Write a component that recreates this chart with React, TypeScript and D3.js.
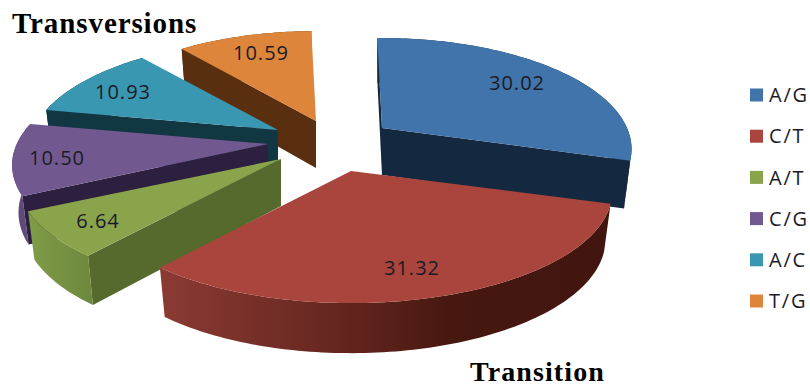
import React from "react";
import * as d3 from "d3";

// Share of each substitution type, in percent
const categories = ["A/G", "C/T", "A/T", "C/G", "A/C", "T/G"];
const shares = [30.02, 31.32, 6.64, 10.5, 10.93, 10.59];

const topColors = ["#4174aa", "#a9453d", "#8aa44b", "#71598f", "#3a97b1", "#dd853a"];
const wallColors = ["#14293f", "#451710", "#556a2c", "#2c1f3f", "#103742", "#5a2f10"];

// Hub of each exploded wedge on the canvas, its horizontal reach, label centres,
// and which radial wall faces the viewer
const hubs: [number, number][] = [[382, 128], [351, 171], [281, 159], [268, 144], [278, 130], [316, 121]];
const reach = [0.98, 1.025, 1.035, 1.005, 0.98, 0.97];
const labelCenters: [number, number][] = [[517, 83], [412, 268], [98, 221], [57, 158], [123, 92], [261, 53]];
const frontWall = ["end", "none", "start", "start", "start", "start"];

const legendY = d3.scalePoint<string>().domain(categories).range([95, 301]);

// Perspective view of the pie disc
const RX = 250;
const RY = 107;
const PERSPECTIVE = 0.19;
const DEPTH = 47;
const BASE_INSET = 0.975;
const START = (-1.3 * Math.PI) / 180;

type Pt = [number, number];

function rimPoint(angle: number, hub: Pt, scale: number, lower: boolean): Pt {
  const u = Math.sin(angle);
  const v = Math.cos(angle);
  const s = 1 / (1 + PERSPECTIVE * v);
  const k = lower ? BASE_INSET : 1;
  const drop = lower ? DEPTH * Math.pow(s, 0.6) : 0;
  return [hub[0] + RX * scale * u * s * k, hub[1] - RY * v * s * k + drop];
}

const hubBase = (hub: Pt): Pt => [hub[0], hub[1] + DEPTH];

function rim(a0: number, a1: number, hub: Pt, scale: number, lower: boolean): Pt[] {
  const n = Math.max(2, Math.ceil(Math.abs(a1 - a0) / 0.02));
  return d3.range(n + 1).map((i) => rimPoint(a0 + ((a1 - a0) * i) / n, hub, scale, lower));
}

const closed = d3.line<Pt>().curve(d3.curveLinearClosed);

const slices = d3
  .pie<number>()
  .sort(null)
  .startAngle(START)
  .endAngle(START + 2 * Math.PI)(shares);

function Wedge({ index }: { index: number }) {
  const { startAngle: a0, endAngle: a1 } = slices[index];
  const hub = hubs[index];
  const k = reach[index];
  const wall = wallColors[index];
  const radial = (angle: number) =>
    closed([hub, rimPoint(angle, hub, k, false), rimPoint(angle, hub, k, true), hubBase(hub)]) as string;
  const outer = closed([...rim(a0, a1, hub, k, false), ...rim(a0, a1, hub, k, true).reverse()]) as string;
  const outerFill = index === 1 ? "url(#redRim)" : index === 2 ? "url(#greenRim)" : index === 3 ? "#5f4a7a" : wall;
  const shown = frontWall[index];
  return (
    <g>
      {index === 0 && <path d={radial(a0)} fill="#14293f" />}
      {shown !== "none" && <path d={radial(shown === "start" ? a0 : a1)} fill={wall} />}
      <path d={outer} fill={outerFill} />
      <path d={closed([hub, ...rim(a0, a1, hub, k, false)]) as string} fill={topColors[index]} />
    </g>
  );
}

// Wedges are painted from the back of the scene to the front
const paintOrder = [5, 0, 4, 3, 2, 1];

export default function App() {
  return (
    <svg
      width={810}
      height={387}
      viewBox="0 0 810 387"
      style={{ position: "absolute", left: 0, top: 0, background: "#fff" }}
    >
      <defs>
        <linearGradient id="redRim" gradientUnits="userSpaceOnUse" x1={161} y1={0} x2={610} y2={0}>
          <stop offset="0" stopColor="#8a3a33" />
          <stop offset="0.38" stopColor="#662720" />
          <stop offset="0.65" stopColor="#471810" />
          <stop offset="1" stopColor="#41150f" />
        </linearGradient>
        <linearGradient id="greenRim" gradientUnits="userSpaceOnUse" x1={29} y1={0} x2={92} y2={0}>
          <stop offset="0" stopColor="#7f9c48" />
          <stop offset="1" stopColor="#6d883c" />
        </linearGradient>
      </defs>

      {paintOrder.map((i) => (
        <Wedge key={categories[i]} index={i} />
      ))}

      {shares.map((value, i) => (
        <text
          key={categories[i]}
          x={labelCenters[i][0]}
          y={labelCenters[i][1]}
          dy="0.36em"
          textAnchor="middle"
          fontFamily="'Open Sans', sans-serif"
          fontSize={20}
          letterSpacing={1}
          fill="#1b1b28"
        >
          {value.toFixed(2)}
        </text>
      ))}

      {categories.map((name, i) => (
        <g key={name}>
          <rect x={750} y={(legendY(name) as number) - 6.5} width={13} height={13} fill={topColors[i]} />
          <text
            x={769}
            y={legendY(name) as number}
            dy="0.36em"
            fontFamily="'Open Sans', sans-serif"
            fontSize={20}
            letterSpacing={1.8}
            fill="#1b1b28"
          >
            {name}
          </text>
        </g>
      ))}

      <text x={12} y={33} fontFamily="'Liberation Serif', serif" fontWeight="bold" fontSize={29} letterSpacing={0.9} fill="#000">
        Transversions
      </text>
      <text x={470} y={380.5} fontFamily="'Liberation Serif', serif" fontWeight="bold" fontSize={28} letterSpacing={1.1} fill="#000">
        Transition
      </text>
    </svg>
  );
}
